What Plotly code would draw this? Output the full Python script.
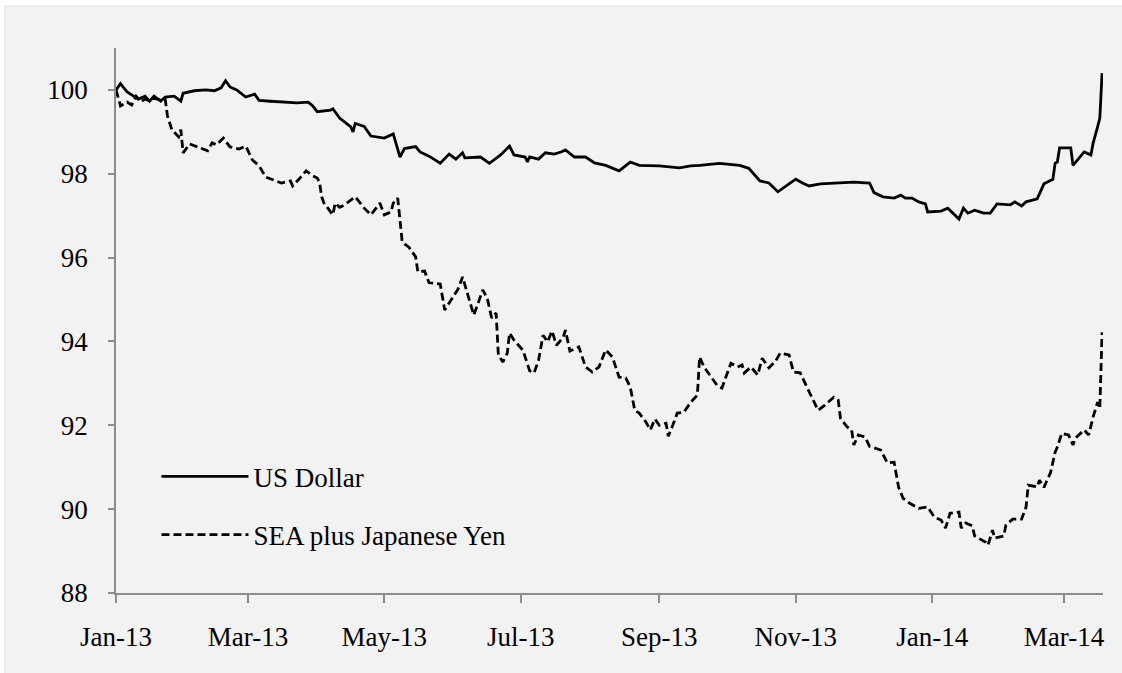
import datetime as dt
import plotly.graph_objects as go

BASE = dt.date(2013, 1, 1)

# Days since 1 Jan 2013 and index values
us_days = [0, 2, 5, 7, 10, 13, 15, 17, 20, 22, 26, 29, 30, 35, 40, 44, 47, 49, 51, 54,
           58, 62, 64, 69, 73, 78, 81, 86, 88, 90, 96, 97, 100, 105, 106, 107, 111, 114,
           120, 124, 127, 129, 134, 136, 140, 145, 149, 152, 155, 156, 163, 167, 172,
           176, 178, 183, 184, 185, 189, 192, 196, 199, 201, 205, 210, 214, 219, 225,
           230, 234, 243, 252, 257, 261, 270, 279, 283, 288, 292, 296, 299, 304, 307,
           310, 315, 324, 330, 337, 339, 343, 348, 351, 353, 356, 359, 362, 363, 369,
           372, 377, 379, 381, 384, 388, 391, 394, 400, 402, 405, 407, 410, 412, 415,
           419, 420, 421, 422, 427, 428, 430, 433, 436, 437, 439, 440, 441]
us_vals = [100.0, 100.15, 99.95, 99.88, 99.78, 99.85, 99.73, 99.85, 99.73, 99.83, 99.85,
           99.73, 99.92, 99.98, 100.0, 99.98, 100.05, 100.22, 100.07, 100.0, 99.83, 99.9,
           99.75, 99.73, 99.72, 99.69, 99.69, 99.71, 99.62, 99.48, 99.52, 99.55, 99.33,
           99.12, 99.0, 99.2, 99.13, 98.9, 98.85, 98.95, 98.4, 98.6, 98.65, 98.52, 98.42,
           98.25, 98.47, 98.35, 98.5, 98.38, 98.4, 98.25, 98.45, 98.66, 98.45, 98.4, 98.28,
           98.4, 98.35, 98.5, 98.47, 98.52, 98.57, 98.4, 98.4, 98.26, 98.2, 98.07, 98.28,
           98.2, 98.19, 98.14, 98.19, 98.2, 98.25, 98.2, 98.13, 97.83, 97.78, 97.57, 97.68,
           97.87, 97.78, 97.71, 97.76, 97.78, 97.8, 97.78, 97.55, 97.45, 97.42, 97.49,
           97.42, 97.42, 97.33, 97.28, 97.09, 97.11, 97.18, 96.92, 97.18, 97.06, 97.13,
           97.06, 97.06, 97.28, 97.26, 97.33, 97.23, 97.33, 97.37, 97.4, 97.76, 97.87,
           98.25, 98.28, 98.62, 98.62, 98.2, 98.33, 98.52, 98.45, 98.73, 99.12, 99.33,
           100.4]

sea_days = [0, 2, 5, 7, 9, 11, 13, 15, 17, 20, 22, 23, 25, 28, 29, 30, 33, 38, 41, 43,
            45, 48, 51, 55, 58, 61, 64, 67, 71, 74, 78, 79, 82, 85, 88, 90, 91, 92, 93,
            97, 98, 100, 102, 107, 111, 114, 118, 120, 123, 124, 126, 127, 128, 131, 134,
            135, 138, 140, 145, 147, 150, 153, 155, 157, 160, 162, 164, 166, 168, 170,
            171, 173, 175, 176, 178, 182, 185, 187, 189, 191, 193, 195, 197, 200, 201,
            203, 207, 210, 213, 216, 219, 222, 225, 228, 230, 232, 234, 237, 239, 241,
            243, 246, 247, 249, 251, 254, 257, 260, 261, 263, 266, 269, 271, 275, 278,
            280, 281, 284, 287, 289, 292, 295, 297, 301, 303, 306, 309, 314, 317, 321,
            323, 324, 327, 329, 330, 332, 335, 337, 342, 345, 348, 350, 352, 355, 359,
            363, 366, 369, 371, 373, 377, 378, 380, 383, 384, 389, 390, 392, 393, 397,
            398, 401, 405, 407, 408, 412, 413, 415, 418, 420, 421, 423, 426, 428, 429,
            433, 435, 437, 439, 440, 441]
sea_vals = [100.0, 99.62, 99.71, 99.64, 99.85, 99.72, 99.78, 99.74, 99.8, 99.76, 99.78,
            99.38, 99.05, 98.88, 99.05, 98.5, 98.71, 98.62, 98.55, 98.74, 98.69, 98.85,
            98.64, 98.59, 98.66, 98.33, 98.19, 97.92, 97.83, 97.78, 97.83, 97.71, 97.88,
            98.07, 97.95, 97.9, 97.8, 97.45, 97.3, 97.02, 97.3, 97.2, 97.25, 97.45, 97.18,
            97.02, 97.3, 97.02, 97.09, 97.3, 97.42, 96.97, 96.37, 96.25, 96.02, 95.66,
            95.68, 95.4, 95.37, 94.75, 94.99, 95.25, 95.54, 95.15, 94.63, 94.92, 95.23,
            95.04, 94.56, 94.68, 93.68, 93.51, 93.72, 94.2, 94.03, 93.79, 93.3, 93.25,
            93.56, 94.15, 93.99, 94.25, 93.91, 94.1, 94.27, 93.77, 93.87, 93.39, 93.27,
            93.39, 93.8, 93.63, 93.15, 93.13, 92.91, 92.36, 92.29, 92.08, 91.89, 92.15,
            92.0, 92.05, 91.74, 92.0, 92.29, 92.31, 92.55, 92.72, 93.63, 93.39, 93.15,
            92.94, 92.89, 93.48, 93.39, 93.44, 93.25, 93.39, 93.2, 93.6, 93.37, 93.53,
            93.72, 93.68, 93.27, 93.25, 92.91, 92.36, 92.48, 92.67, 92.6, 92.17, 91.96,
            91.89, 91.53, 91.77, 91.72, 91.5, 91.41, 91.1, 91.12, 90.52, 90.26, 90.14,
            90.02, 90.05, 89.81, 89.74, 89.55, 89.9, 89.93, 89.55, 89.67, 89.6, 89.36,
            89.21, 89.14, 89.5, 89.31, 89.36, 89.62, 89.76, 89.76, 90.05, 90.57, 90.53,
            90.69, 90.52, 90.88, 91.36, 91.48, 91.81, 91.77, 91.53, 91.69, 91.89, 91.77,
            92.2, 92.55, 92.4, 94.22]

tick_dates = ["2013-01-01", "2013-03-01", "2013-05-01", "2013-07-01", "2013-09-01",
              "2013-11-01", "2014-01-01", "2014-03-01"]
tick_text = ["Jan-13", "Mar-13", "May-13", "Jul-13", "Sep-13", "Nov-13", "Jan-14", "Mar-14"]
y_ticks = [88, 90, 92, 94, 96, 98, 100]

us_dates = [BASE + dt.timedelta(days=d) for d in us_days]
sea_dates = [BASE + dt.timedelta(days=d) for d in sea_days]

FONT = "Liberation Serif, Times New Roman, serif"
FSIZE = 27

fig = go.Figure()
fig.add_trace(go.Scatter(x=us_dates, y=us_vals, mode="lines", name="US Dollar",
                         legendgroup="a",
                         line=dict(color="black", width=2.8)))
fig.add_trace(go.Scatter(x=sea_dates, y=sea_vals, mode="lines",
                         name="SEA plus Japanese Yen", legendgroup="b",
                         line=dict(color="black", width=2.8, dash="8px,4px")))

fig.update_layout(
    width=1122, height=673,
    margin=dict(l=116, r=19, t=48, b=80),
    paper_bgcolor="white",
    plot_bgcolor="#F2F2F2",
    font=dict(family=FONT, size=FSIZE, color="black"),
    showlegend=True,
    legend=dict(x=0.041, y=0.258, xanchor="left", yanchor="top",
                bgcolor="rgba(0,0,0,0)", font=dict(size=FSIZE, family=FONT),
                traceorder="grouped", tracegroupgap=20, itemwidth=87),
    shapes=[dict(type="rect", xref="paper", yref="paper", layer="below",
                 x0=-0.1125, x1=1.05, y0=-0.3, y1=1.077,
                 fillcolor="#F2F2F2", line=dict(color="#E0E0E0", width=1))],
)
fig.update_xaxes(
    type="date",
    range=["2013-01-01", "2014-03-18 10:00"],
    tickmode="array", tickvals=tick_dates, ticktext=tick_text,
    showgrid=False, zeroline=False,
    showline=True, linecolor="#8C8C8C", linewidth=1.5,
    ticks="outside", ticklen=8, tickcolor="#8C8C8C", tickwidth=1.5,
    ticklabelstandoff=11,
    tickfont=dict(size=FSIZE, family=FONT),
)
fig.update_yaxes(
    range=[88, 101],
    tickmode="array", tickvals=y_ticks,
    showgrid=False, zeroline=False,
    showline=True, linecolor="#8C8C8C", linewidth=1.5,
    ticks="outside", ticklen=6, tickcolor="#8C8C8C", tickwidth=1.5,
    ticklabelstandoff=15,
    tickfont=dict(size=FSIZE, family=FONT),
)

fig.write_html("out.html", config={"displayModeBar": False},
               post_script="document.body.style.margin='0';")
